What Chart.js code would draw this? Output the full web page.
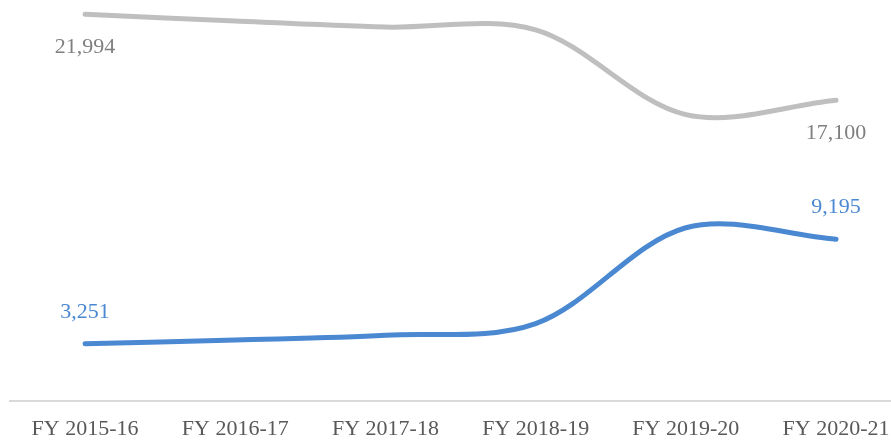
<!DOCTYPE html>
<html>
<head>
<meta charset="utf-8">
<script src="https://cdn.jsdelivr.net/npm/chart.js@4/dist/chart.umd.min.js"></script>
<style>
  html, body { margin: 0; padding: 0; background: #ffffff; }
  #wrap { width: 891px; height: 440px; position: relative; }
</style>
</head>
<body>
<div id="wrap"><canvas id="c"></canvas></div>
<script>
const categories = ["FY 2015-16", "FY 2016-17", "FY 2017-18", "FY 2018-19", "FY 2019-20", "FY 2020-21"];
const seriesGray = [21994, 21600, 21260, 21100, 16280, 17100];
const seriesBlue = [3251, 3470, 3740, 4400, 9850, 9195];

const GRAY = '#bfbfbf';
const BLUE = '#4a88d2';
const FONT = '"Liberation Serif", "Times New Roman", serif';

function fmt(v) { return v.toLocaleString('en-US'); }

const endLabels = {
  id: 'endLabels',
  afterDatasetsDraw(chart) {
    const ctx = chart.ctx;
    ctx.save();
    ctx.font = '22px ' + FONT;
    ctx.textAlign = 'center';
    ctx.textBaseline = 'middle';
    chart.data.datasets.forEach((ds, di) => {
      const meta = chart.getDatasetMeta(di);
      const n = meta.data.length;
      [0, n - 1].forEach(i => {
        const pt = meta.data[i];
        const dy = ds.labelBelow ? 33 : -32;
        ctx.fillStyle = ds.labelColor;
        ctx.fillText(fmt(ds.data[i].y), pt.x, pt.y + dy);
      });
    });
    ctx.restore();
  }
};

const toPts = arr => arr.map((v, i) => ({ x: i, y: v }));

new Chart(document.getElementById('c'), {
  type: 'line',
  data: {
    datasets: [
      { data: toPts(seriesGray), borderColor: GRAY, borderWidth: 5, pointRadius: 0,
        tension: 0.33, borderCapStyle: 'round', labelColor: '#7f7f7f', labelBelow: true },
      { data: toPts(seriesBlue), borderColor: BLUE, borderWidth: 5, pointRadius: 0,
        tension: 0.33, borderCapStyle: 'round', labelColor: BLUE, labelBelow: false }
    ]
  },
  options: {
    responsive: true,
    maintainAspectRatio: false,
    animation: false,
    layout: { padding: { left: 10, right: 0, top: 0, bottom: 0 } },
    plugins: { legend: { display: false }, tooltip: { enabled: false } },
    scales: {
      x: {
        type: 'linear',
        min: -0.5,
        max: 5.366,
        afterBuildTicks: axis => { axis.ticks = categories.map((c, i) => ({ value: i })); },
        afterFit: axis => { axis.height = 39; axis.paddingLeft = 0; axis.paddingRight = 0; },
        grid: { display: false, drawTicks: false },
        border: { display: true, color: '#d9d9d9', width: 2 },
        ticks: {
          autoSkip: false, maxRotation: 0, padding: 17,
          color: '#595959',
          font: { family: FONT, size: 22, lineHeight: 1 },
          callback: v => categories[v] !== undefined ? categories[v] : ''
        }
      },
      y: {
        display: false,
        min: 0,
        max: 22800
      }
    }
  },
  plugins: [endLabels]
});
</script>
</body>
</html>
